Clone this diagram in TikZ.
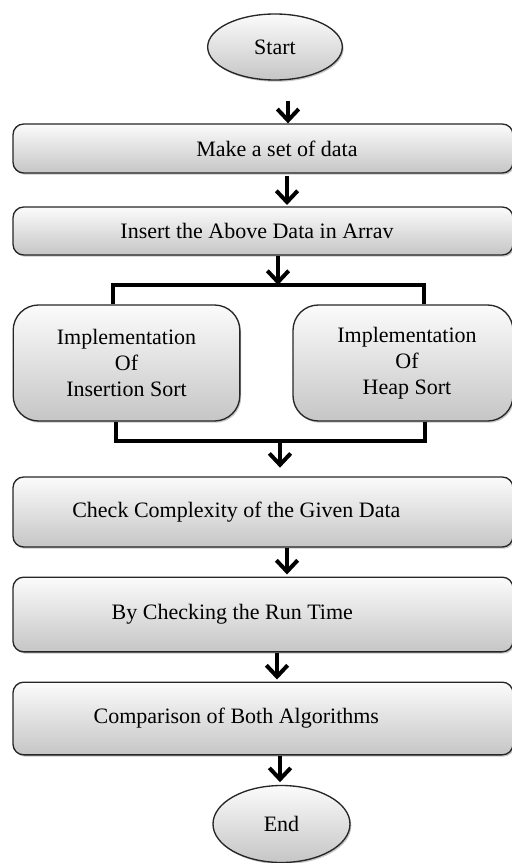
\documentclass[tikz,border=0pt]{standalone}
\usepackage{fontspec}
\setmainfont{Liberation Serif}
\usetikzlibrary{shapes.geometric, shadows, arrows.meta}

\begin{document}
\begin{tikzpicture}[x=0.75pt, y=-0.75pt,
		flow/.style={line width=3pt, -{Straight Barb[length=8.5pt,width=16pt]}},
		bar/.style={line width=3pt}]
		\useasboundingbox (0,0) rectangle (511,863);
		\begin{scope}[every node/.style={draw=black!85, line width=1pt, top color=gray!3, bottom color=gray!45,
				drop shadow={shadow xshift=1pt, shadow yshift=-1.3pt, opacity=.45},
				font=\fontsize{16.5}{19.5}\selectfont, align=center},
			terminal/.style={ellipse, inner sep=0pt},
			widebox/.style={rectangle, rounded corners=8pt, minimum width=375pt},
			sidebox/.style={rectangle, rounded corners=19pt, minimum height=87pt}]
			\node [terminal, minimum width=101pt, minimum height=49.5pt] (start) at (275,47) {Start};
			\node [widebox, minimum height=36.75pt] (makedata) at (263,148.5) {\hspace*{21pt}Make a set of data};
			\node [widebox, minimum height=36pt] (insert) at (263,231) {Insert the Above Data in Arrav\hspace*{9pt}};
			\node [sidebox, minimum width=170pt] (insertion) at (126.5,363) {Implementation\\ Of\\ Insertion Sort};
			\node [sidebox, minimum width=165pt] (heap) at (403,363) {\hspace*{6pt}Implementation\\ \hspace*{6pt}Of\\ \hspace*{6pt}Heap Sort};
			\node [widebox, minimum height=52.5pt] (complexity) at (263,512) {Check Complexity of the Given Data\hspace*{40pt}};
			\node [widebox, minimum height=56pt] (runtime) at (263,614.5) {By Checking the Run Time\hspace*{46pt}};
			\node [widebox, minimum height=54.5pt] (compare) at (263,718.5) {Comparison of Both Algorithms\hspace*{40pt}};
			\node [terminal, minimum width=102.75pt, minimum height=57.75pt] (finish) at (281.5,824) {End};
		\end{scope}
		% split and join of the two sorts
		\coordinate (split) at (278,285);
		\coordinate (join) at (280,441);
		\draw[flow] ([xshift=9.75pt,yshift=-15pt]start.south) -- ([xshift=9.75pt]start.south |- makedata.north);
		\draw[flow, shorten >=1pt] ([xshift=18pt,yshift=-1.5pt]makedata.south) -- ([xshift=18pt]makedata.south |- insert.north);
		\draw[flow] (insert.south -| split) -- (split);
		\draw[bar] ([xshift=-10pt]insertion.north) |- (split) -| ([xshift=15.75pt]heap.north);
		\draw[bar] ([xshift=-7.9pt]insertion.south) |- (join) -| ([xshift=16.5pt]heap.south);
		\draw[flow, shorten >=6.5pt] (join) -- (join |- complexity.north);
		\draw[flow, shorten >=1.5pt] ([xshift=18pt]complexity.south) -- ([xshift=18pt]complexity.south |- runtime.north);
		\draw[flow, shorten >=1.5pt] ([xshift=10.5pt]runtime.south) -- ([xshift=10.5pt]runtime.south |- compare.north);
		\draw[flow, shorten >=2pt] ([xshift=12.75pt]compare.south) -- ([xshift=12.75pt]compare.south |- finish.north);
\end{tikzpicture}
\end{document}
